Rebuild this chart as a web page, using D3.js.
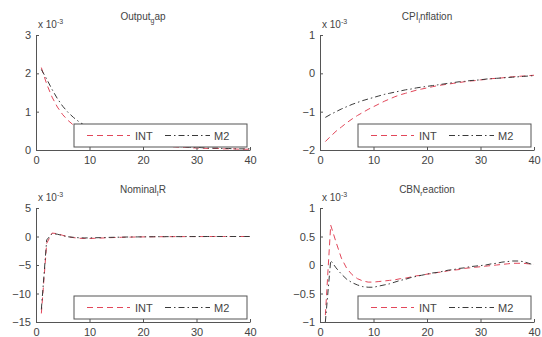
<!DOCTYPE html>
<html>
<head>
<meta charset="utf-8">
<script src="https://cdn.jsdelivr.net/npm/d3@7"></script>
<style>
  body { margin: 0; background: #fff; }
  svg { font-family: "Liberation Sans", Arial, sans-serif; }
</style>
</head>
<body>
<div id="chart"></div>
<script>
// periods 1..40
const periods = d3.range(1, 41);
const seriesNames = ['INT', 'M2'];
const xTicks = [0, 10, 20, 30, 40];

// values in units of 1e-3
const outputINT = [2.15, 1.72, 1.38, 1.12, 0.92, 0.77, 0.65, 0.56, 0.49, 0.43, 0.38, 0.34, 0.30, 0.27, 0.24, 0.22, 0.20, 0.18, 0.16, 0.15,
  0.13, 0.12, 0.11, 0.10, 0.09, 0.08, 0.07, 0.07, 0.06, 0.05, 0.05, 0.04, 0.04, 0.04, 0.03, 0.03, 0.03, 0.02, 0.02, 0.02];
const outputM2 = [2.10, 1.85, 1.58, 1.34, 1.14, 0.98, 0.85, 0.74, 0.65, 0.57, 0.50, 0.44, 0.39, 0.35, 0.31, 0.28, 0.25, 0.22, 0.20, 0.18,
  0.16, 0.15, 0.13, 0.12, 0.11, 0.10, 0.09, 0.08, 0.07, 0.07, 0.06, 0.05, 0.05, 0.05, 0.04, 0.04, 0.03, 0.03, 0.03, 0.03];

const cpiINT = [-1.78, -1.64, -1.51, -1.40, -1.29, -1.19, -1.10, -1.02, -0.94, -0.87, -0.80, -0.73, -0.67, -0.61, -0.56, -0.52, -0.48, -0.44, -0.41, -0.38,
  -0.35, -0.32, -0.30, -0.28, -0.26, -0.24, -0.22, -0.20, -0.19, -0.17, -0.16, -0.14, -0.13, -0.12, -0.10, -0.09, -0.08, -0.07, -0.06, -0.05];
const cpiM2 = [-1.15, -1.07, -1.00, -0.93, -0.87, -0.81, -0.76, -0.71, -0.67, -0.63, -0.59, -0.55, -0.52, -0.49, -0.46, -0.43, -0.41, -0.38, -0.36, -0.34,
  -0.32, -0.30, -0.28, -0.26, -0.24, -0.22, -0.21, -0.19, -0.18, -0.17, -0.15, -0.14, -0.13, -0.12, -0.11, -0.10, -0.09, -0.08, -0.07, -0.06];

const rateINT = [-13.5, -1.2, 0.6, 0.5, 0.2, -0.05, -0.2, -0.3, -0.35, -0.35, -0.32, -0.28, -0.24, -0.2, -0.17, -0.14, -0.12, -0.1, -0.08, -0.07,
  -0.06, -0.05, -0.04, -0.03, -0.03, -0.02, -0.02, -0.02, -0.01, -0.01, -0.01, -0.01, 0, 0, 0, 0, 0, 0, 0, 0];
const rateM2 = [-12.8, -0.6, 0.5, 0.4, 0.15, -0.05, -0.15, -0.22, -0.25, -0.25, -0.22, -0.2, -0.17, -0.15, -0.13, -0.11, -0.09, -0.08, -0.07, -0.06,
  -0.05, -0.04, -0.03, -0.03, -0.02, -0.02, -0.02, -0.01, -0.01, -0.01, 0, 0, 0, 0, 0, 0, 0, 0, 0, 0];

const cbnINT = [-0.88, 0.70, 0.40, 0.12, -0.06, -0.17, -0.24, -0.28, -0.30, -0.30, -0.29, -0.28, -0.27, -0.26, -0.24, -0.23, -0.21, -0.19, -0.18, -0.16,
  -0.15, -0.13, -0.12, -0.10, -0.09, -0.08, -0.06, -0.05, -0.04, -0.03, -0.02, -0.01, 0.0, 0.01, 0.02, 0.03, 0.03, 0.03, 0.02, 0.01];
const cbnM2 = [-1.0, 0.08, -0.05, -0.16, -0.25, -0.31, -0.35, -0.38, -0.39, -0.39, -0.37, -0.35, -0.33, -0.30, -0.27, -0.25, -0.22, -0.20, -0.18, -0.16,
  -0.14, -0.13, -0.11, -0.09, -0.08, -0.06, -0.05, -0.03, -0.02, -0.01, 0.0, 0.02, 0.03, 0.05, 0.06, 0.07, 0.07, 0.06, 0.03, 0.0];

const panels = [
  { title: ['Output', 'g', 'ap'], yDomain: [0, 3], yTicks: [0, 1, 2, 3], series: [outputINT, outputM2] },
  { title: ['CPI', 'i', 'nflation'], yDomain: [-2, 1], yTicks: [-2, -1, 0, 1], series: [cpiINT, cpiM2] },
  { title: ['Nominal', 'I', 'R'], yDomain: [-15, 5], yTicks: [-15, -10, -5, 0, 5], series: [rateINT, rateM2] },
  { title: ['CBN', 'r', 'eaction'], yDomain: [-1, 1], yTicks: [-1, -0.5, 0, 0.5, 1], series: [cbnINT, cbnM2] },
];

const width = 542;
const height = 337;
const cols = [{ left: 36, right: 250 }, { left: 320, right: 534 }];
const rows = [{ top: 35, bottom: 150 }, { top: 208, bottom: 322 }];
const styles = [
  { color: '#e2475a', dash: '6,4' },
  { color: '#3a3a3a', dash: '6,3,1.5,3' },
];
const axisColor = '#555';
const textColor = '#444';

const svg = d3.select('#chart').append('svg')
  .attr('width', width)
  .attr('height', height);

panels.forEach((p, i) => {
  const col = cols[i % 2];
  const row = rows[Math.floor(i / 2)];

  const xScale = d3.scaleLinear().domain([0, 40]).range([col.left, col.right]);
  const yScale = d3.scaleLinear().domain(p.yDomain).range([row.bottom, row.top]);

  const g = svg.append('g');

  const line = d3.line()
    .x((d, k) => xScale(periods[k]))
    .y((d) => yScale(d));

  p.series.forEach((s, k) => {
    g.append('path')
      .datum(s)
      .attr('fill', 'none')
      .attr('stroke', styles[k].color)
      .attr('stroke-width', 1)
      .attr('stroke-dasharray', styles[k].dash)
      .attr('d', line);
  });

  // axes (matlab style, ticks inward, box off)
  const xAxis = g.append('g')
    .attr('transform', `translate(0,${row.bottom})`)
    .call(d3.axisBottom(xScale).tickValues(xTicks).tickSizeInner(-3).tickSizeOuter(0).tickPadding(4));
  const yAxis = g.append('g')
    .attr('transform', `translate(${col.left},0)`)
    .call(d3.axisLeft(yScale).tickValues(p.yTicks).tickSizeInner(-3).tickSizeOuter(0).tickPadding(5)
      .tickFormat(d3.format('')));
  [xAxis, yAxis].forEach((a) => {
    a.select('.domain').attr('stroke', axisColor);
    a.selectAll('.tick line').attr('stroke', axisColor);
    a.selectAll('.tick text').attr('fill', textColor).style('font-size', '11px');
  });
  xAxis.selectAll('.tick text').attr('dy', '0.9em');

  // exponent label
  const expo = g.append('text')
    .attr('x', col.left + 2)
    .attr('y', row.top - 7)
    .attr('fill', textColor)
    .style('font-size', '10px');
  expo.append('tspan').text('x 10');
  expo.append('tspan').attr('dy', -4).style('font-size', '7px').text('-3');

  // title with subscript
  const title = g.append('text')
    .attr('x', (col.left + col.right) / 2)
    .attr('y', row.top - 15)
    .attr('text-anchor', 'middle')
    .attr('fill', textColor)
    .style('font-size', '10px');
  title.append('tspan').text(p.title[0]);
  title.append('tspan').attr('dy', 3).style('font-size', '7px').text(p.title[1]);
  title.append('tspan').attr('dy', -3).text(p.title[2]);

  // legend
  const lgW = 173;
  const lgH = 23;
  const lgX = col.right - 3 - lgW;
  const lgY = row.bottom - 3 - lgH;
  const lg = g.append('g').attr('transform', `translate(${lgX},${lgY})`);
  lg.append('rect')
    .attr('width', lgW)
    .attr('height', lgH)
    .attr('fill', '#fff')
    .attr('stroke', axisColor)
    .attr('stroke-width', 1);
  const items = [{ x0: 13, x1: 56, tx: 61 }, { x0: 91, x1: 136, tx: 140 }];
  seriesNames.forEach((name, k) => {
    lg.append('line')
      .attr('x1', items[k].x0)
      .attr('x2', items[k].x1)
      .attr('y1', lgH / 2)
      .attr('y2', lgH / 2)
      .attr('stroke', styles[k].color)
      .attr('stroke-dasharray', styles[k].dash);
    lg.append('text')
      .attr('x', items[k].tx)
      .attr('y', lgH / 2 + 4)
      .attr('fill', textColor)
      .style('font-size', '11px')
      .text(name);
  });
});
</script>
</body>
</html>
